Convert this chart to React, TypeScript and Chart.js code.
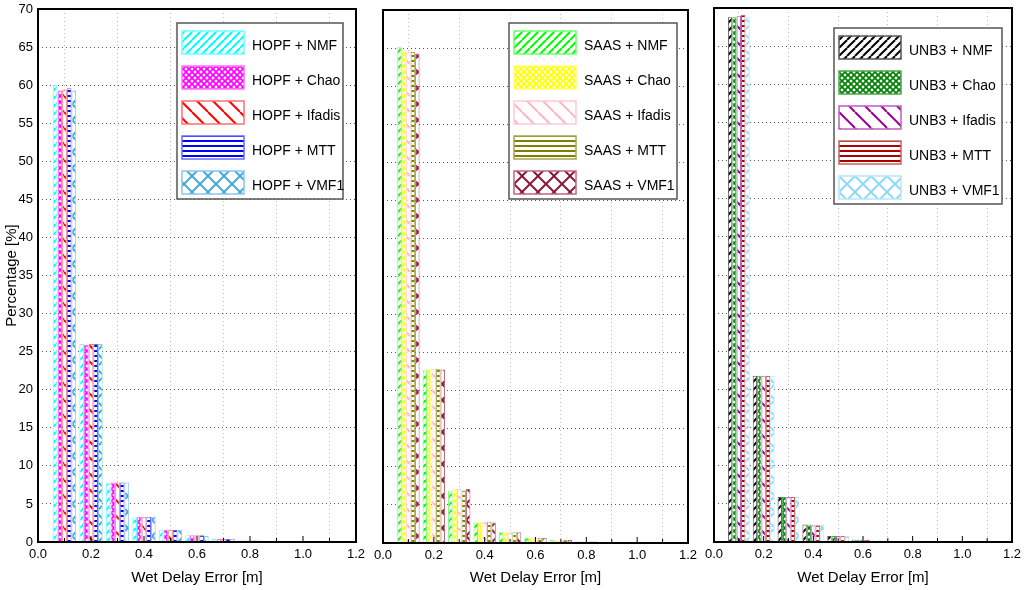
import { useEffect, useRef } from "react"
import { Chart, registerables } from "chart.js"

Chart.register(...registerables)

const FONT = '"Liberation Sans", Arial, sans-serif'
Chart.defaults.font.family = FONT

// histogram bin centres [m]
const bins = [0.1, 0.2, 0.3, 0.4, 0.5, 0.6, 0.7, 0.8, 0.9]

// HOPF panel, percentage per bin
const hopfNmf = [60.0, 26.0, 7.7, 3.2, 1.6, 0.9, 0.4, 0.2, 0.1]
const hopfChao = [59.3, 25.9, 7.8, 3.3, 1.6, 0.9, 0.4, 0.2, 0.1]
const hopfIfadis = [59.4, 26.0, 7.8, 3.3, 1.6, 0.9, 0.4, 0.2, 0.1]
const hopfMtt = [59.6, 26.0, 7.8, 3.3, 1.6, 0.9, 0.4, 0.2, 0.1]
const hopfVmf1 = [59.3, 26.0, 7.8, 3.3, 1.6, 0.8, 0.4, 0.2, 0.1]

// SAAS panel
const saasNmf = [65.1, 22.7, 6.8, 2.7, 1.4, 0.7, 0.4, 0.2, 0.1]
const saasChao = [64.7, 22.9, 7.1, 2.8, 1.4, 0.7, 0.4, 0.2, 0.1]
const saasIfadis = [64.5, 22.9, 7.1, 2.8, 1.4, 0.7, 0.3, 0.2, 0.1]
const saasMtt = [64.5, 22.9, 6.9, 2.8, 1.4, 0.7, 0.4, 0.2, 0.1]
const saasVmf1 = [64.3, 22.8, 7.1, 2.7, 1.4, 0.7, 0.4, 0.2, 0.1]

// UNB3 panel
const unb3Nmf = [68.8, 21.8, 5.9, 2.3, 0.8, 0.3, 0.15, 0.05, 0.02]
const unb3Chao = [68.8, 21.8, 5.9, 2.3, 0.8, 0.3, 0.15, 0.05, 0.02]
const unb3Ifadis = [69.0, 21.8, 5.9, 2.2, 0.8, 0.3, 0.15, 0.05, 0.02]
const unb3Mtt = [69.1, 21.8, 5.9, 2.2, 0.8, 0.3, 0.15, 0.05, 0.02]
const unb3Vmf1 = [68.8, 21.8, 5.9, 2.3, 0.8, 0.3, 0.15, 0.05, 0.02]

const mappings = ["NMF", "Chao", "Ifadis", "MTT", "VMF1"]
const hatches = ["fwd", "dense", "back", "horiz", "cross"]

type Series = { values: number[]; color: string; border: string }

function makePattern(ctx: CanvasRenderingContext2D, kind: string, color: string) {
  const size = kind === "fwd" ? 8 : kind === "dense" ? 6 : kind === "horiz" ? 5 : 16
  const c = document.createElement("canvas")
  c.width = size
  c.height = size
  const g = c.getContext("2d")!
  g.fillStyle = "#fff"
  g.fillRect(0, 0, size, size)
  g.strokeStyle = color
  g.fillStyle = color
  g.lineWidth = kind === "dense" ? 1.7 : 2
  const line = (x0: number, y0: number, x1: number, y1: number) => {
    g.beginPath()
    g.moveTo(x0, y0)
    g.lineTo(x1, y1)
    g.stroke()
  }
  if (kind === "horiz") {
    g.fillRect(0, 0, size, 2)
  } else {
    for (const k of [-size, 0, size]) {
      if (kind !== "back") line(k, size, k + size, 0)
      if (kind !== "fwd") line(k, 0, k + size, size)
    }
  }
  return ctx.createPattern(c, "repeat")!
}

// black frame round the plot area + small inner ticks on the x axis
const frame = {
  id: "frame",
  afterDatasetsDraw(chart: Chart) {
    const { ctx, chartArea } = chart
    const x = chart.scales.x
    ctx.save()
    ctx.strokeStyle = "#000"
    ctx.lineWidth = 1
    x.ticks.forEach((t) => {
      const px = x.getPixelForValue(t.value)
      const major = Math.round(t.value * 10) % 2 === 0
      ctx.beginPath()
      ctx.moveTo(px, chartArea.bottom)
      ctx.lineTo(px, chartArea.bottom - (major ? 6 : 4))
      ctx.stroke()
    })
    ctx.lineWidth = 2
    ctx.strokeRect(chartArea.left, chartArea.top, chartArea.right - chartArea.left, chartArea.bottom - chartArea.top)
    ctx.restore()
  },
}

// boxed legend with hatched swatches, top right inside the plot
const boxLegend = {
  id: "boxLegend",
  afterDraw(chart: Chart, _args: unknown, opts: any) {
    const { ctx, chartArea } = chart
    const w = opts.width
    const h = 176
    const x = chartArea.right - opts.right - w
    const y = chartArea.top + opts.top
    ctx.save()
    ctx.fillStyle = "#fff"
    ctx.fillRect(x, y, w, h)
    ctx.strokeStyle = "#555"
    ctx.lineWidth = 1.5
    ctx.strokeRect(x, y, w, h)
    chart.data.datasets.forEach((ds: any, i) => {
      const sy = y + 8 + i * 35
      ctx.fillStyle = ds.backgroundColor
      ctx.fillRect(x + 5, sy, 62, 23)
      ctx.strokeStyle = ds.borderColor
      ctx.lineWidth = 1.5
      ctx.strokeRect(x + 5, sy, 62, 23)
      ctx.fillStyle = "#000"
      ctx.font = `14px ${FONT}`
      ctx.textBaseline = "middle"
      ctx.fillText(ds.label, x + 75, sy + 15)
    })
    ctx.restore()
  },
}

type PanelProps = {
  model: string
  series: Series[]
  left: number
  width: number
  axisWidth: number
  padRight: number
  padTop: number
  xHeight: number
  showY: boolean
  legend: { width: number; right: number; top: number }
}

function Panel(p: PanelProps) {
  const chartRef = useRef<HTMLCanvasElement>(null)

  useEffect(() => {
    if (!chartRef.current) return
    const ctx = chartRef.current.getContext("2d")
    if (!ctx) return

    const chart = new Chart(ctx, {
      type: "bar",
      data: {
        datasets: p.series.map((s, i) => ({
          label: `${p.model} + ${mappings[i]}`,
          data: bins.map((b, j) => ({ x: b, y: s.values[j] })),
          backgroundColor: makePattern(ctx, hatches[i], s.color),
          borderColor: s.border,
          borderWidth: 1,
          categoryPercentage: 0.88,
          barPercentage: 1,
        })),
      },
      options: {
        responsive: true,
        maintainAspectRatio: false,
        animation: false,
        layout: { padding: { left: 0, right: p.padRight, top: p.padTop, bottom: 0 } },
        plugins: {
          legend: { display: false },
          tooltip: { enabled: false },
          boxLegend: p.legend,
        } as any,
        scales: {
          x: {
            type: "linear",
            min: 0,
            max: 1.2,
            offset: false,
            afterFit: (s: any) => {
              s.height = p.xHeight
              s.paddingLeft = 0
              s.paddingRight = 0
            },
            ticks: {
              stepSize: 0.1,
              autoSkip: false,
              maxRotation: 0,
              padding: 5,
              color: "#000",
              font: { size: 13 },
              callback: (v) => {
                const n = Math.round(Number(v) * 10)
                return n % 2 === 0 ? (n / 10).toFixed(1) : ""
              },
            },
            grid: {
              offset: false,
              drawTicks: false,
              color: (c: any) => (Math.round(c.tick.value * 10) % 2 === 1 ? "#bdbdbd" : "transparent"),
            },
            border: { display: false, dash: [1, 3] },
            title: {
              display: true,
              text: "Wet Delay Error [m]",
              color: "#000",
              font: { size: 15 },
              padding: { top: 0, bottom: 3 },
            },
          },
          y: {
            min: 0,
            max: 70,
            afterFit: (s: any) => {
              s.width = p.axisWidth
              s.paddingTop = 0
              s.paddingBottom = 0
            },
            ticks: {
              display: p.showY,
              stepSize: 5,
              padding: 5,
              color: "#000",
              font: { size: 13 },
            },
            grid: { drawTicks: false, color: "#555" },
            border: { display: false, dash: [1, 3] },
            title: {
              display: p.showY,
              text: "Percentage [%]",
              color: "#000",
              font: { size: 15 },
              padding: { top: 3, bottom: 0 },
            },
          },
        },
      },
      plugins: [frame, boxLegend],
    })

    return () => chart.destroy()
  }, [])

  return (
    <div style={{ position: "absolute", left: p.left, top: 0, width: p.width, height: 590 }}>
      <canvas ref={chartRef} />
    </div>
  )
}

export default function App() {
  return (
    <div style={{ position: "fixed", left: 0, top: 0, width: 1024, height: 590, background: "#fff", overflow: "hidden" }}>
      <Panel
        model="HOPF"
        series={[
          { values: hopfNmf, color: "#00ffff", border: "#70ffff" },
          { values: hopfChao, color: "#ff00ff", border: "#ff70ff" },
          { values: hopfIfadis, color: "#ff0000", border: "#ff7070" },
          { values: hopfMtt, color: "#0000ff", border: "#6a6aff" },
          { values: hopfVmf1, color: "#4aa8d8", border: "#8cc8e8" },
        ]}
        left={0}
        width={374}
        axisWidth={38}
        padRight={18}
        padTop={9}
        xHeight={48}
        showY={true}
        legend={{ width: 166, right: 13, top: 14 }}
      />
      <Panel
        model="SAAS"
        series={[
          { values: saasNmf, color: "#00ff00", border: "#70ff70" },
          { values: saasChao, color: "#ffff00", border: "#ffff70" },
          { values: saasIfadis, color: "#ffb6c1", border: "#ffccd4" },
          { values: saasMtt, color: "#808000", border: "#a8a850" },
          { values: saasVmf1, color: "#8b1a3c", border: "#bb6a7a" },
        ]}
        left={362}
        width={345}
        axisWidth={21}
        padRight={19}
        padTop={10}
        xHeight={47}
        showY={false}
        legend={{ width: 168, right: 11, top: 13 }}
      />
      <Panel
        model="UNB3"
        series={[
          { values: unb3Nmf, color: "#000000", border: "#555555" },
          { values: unb3Chao, color: "#008000", border: "#50a850" },
          { values: unb3Ifadis, color: "#990099", border: "#bb60bb" },
          { values: unb3Mtt, color: "#aa0000", border: "#c86060" },
          { values: unb3Vmf1, color: "#8fd8f8", border: "#b4e6fb" },
        ]}
        left={695}
        width={329}
        axisWidth={19}
        padRight={12}
        padTop={8}
        xHeight={48}
        showY={false}
        legend={{ width: 168, right: 10, top: 20 }}
      />
    </div>
  )
}
